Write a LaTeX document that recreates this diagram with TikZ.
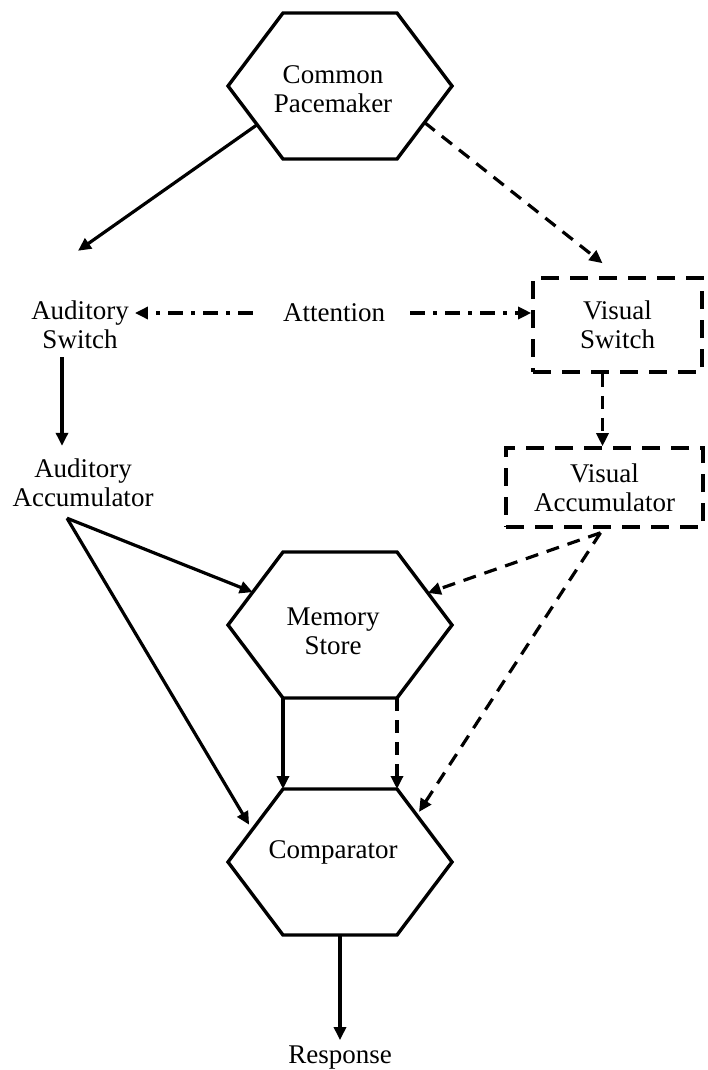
\documentclass[tikz,border=0pt]{standalone}
\usepackage{fontspec}
\setmainfont{Liberation Serif}
\usetikzlibrary{arrows.meta,calc}
\newcommand{\hexagonat}[3]{%
  \coordinate (#1-w)  at ({#2-112},{#3});
  \coordinate (#1-nw) at ({#2-57},{#3-73});
  \coordinate (#1-ne) at ({#2+57},{#3-73});
  \coordinate (#1-e)  at ({#2+112},{#3});
  \coordinate (#1-se) at ({#2+57},{#3+73});
  \coordinate (#1-sw) at ({#2-57},{#3+73});
  \draw[hexline] (#1-w) -- (#1-nw) -- (#1-ne) -- (#1-e) -- (#1-se) -- (#1-sw) -- cycle;}
\begin{document}
\begin{tikzpicture}[x=1pt,y=-1pt,
  txt/.style={align=center,inner sep=0pt,font=\fontsize{27}{29}\selectfont},
  hexline/.style={line width=3.4pt,line join=miter},
  dbox/.style={draw,line width=3.6pt,dash pattern=on 18pt off 11pt,
    minimum width=169pt,minimum height=94pt,inner sep=0pt,align=center,
    font=\fontsize{27}{29}\selectfont},
  con/.style={line width=3.2pt,-{Triangle[length=13pt,width=12pt]}},
  dcon/.style={con,dash pattern=on 13pt off 9pt},
  ddcon/.style={con,dash pattern=on 15pt off 8pt on 4pt off 8pt}]
\fill[white] (0,0) rectangle (707,1070);
\useasboundingbox (0,0) rectangle (707,1070);

\hexagonat{pm}{340}{86}
\hexagonat{mem}{340}{625}
\hexagonat{cmp}{340}{862}

\node[txt] (pmt) at (333,89) {Common\\Pacemaker};
\node[txt] (memt) at (333,631) {Memory\\Store};
\node[txt] (cmpt) at (333,852) {Comparator};
\node[txt] (resp) at (340,1058) {Response};
\node[txt] (audsw) at (80,325) {Auditory\\Switch};
\node[txt] (attn) at (334,313) {Attention};
\node[txt] (audacc) at (83,483) {Auditory\\Accumulator};
\node[dbox] (vissw) at (617.5,325) {Visual\\Switch};
\node[dbox,minimum width=197pt,minimum height=79pt] (visacc) at (604.5,487.5) {Visual\\Accumulator};

\coordinate (pmA) at ($(pm-w)!0.53!(pm-sw)$);
\coordinate (pmB) at ($(pm-e)!0.5!(pm-se)$);
\coordinate (memL) at ($(mem-w)!0.45!(mem-nw)$);
\coordinate (memR) at ($(mem-e)!0.44!(mem-ne)$);
\coordinate (cmpL) at ($(cmp-w)!0.44!(cmp-nw)$);
\coordinate (cmpR) at ($(cmp-e)!0.64!(cmp-ne)$);
\coordinate (cmpB) at ($(cmp-sw)!0.5!(cmp-se)$);
\coordinate (aaOut) at ($(audacc.south)+(-16,11)$);
\coordinate (vaOut) at ($(visacc.south)+(-4,4)$);
\coordinate (audswIn) at ($(audsw.north)+(-2,-50)$);
\coordinate (visswIn) at ($(vissw.north)+(-15,-13)$);
\coordinate (vsOut) at ($(vissw.south)+(-15,0)$);

\draw[con] (pmA) -- (audswIn);
\draw[dcon] (pmB) -- (visswIn);
\draw[ddcon] ($(attn.west)+(-30,0)$) -- ($(audsw.east |- attn)+(6,0)$);
\draw[ddcon] ($(attn.east)+(25,0)$) -- (vissw.west |- attn);
\draw[con] ($(audsw.south)+(-18,8)$) -- ($(audacc.north)+(-21,-13)$);
\draw[dcon] (vsOut) -- (vsOut |- visacc.north);
\draw[con] (aaOut) -- (memL);
\draw[con,shorten >=6pt] (aaOut) -- (cmpL);
\draw[dcon] (vaOut) -- (memR);
\draw[dcon,shorten >=4pt] (vaOut) -- (cmpR);
\draw[con] (mem-sw) -- (cmp-nw);
\draw[dcon] (mem-se) -- (cmp-ne);
\draw[con,shorten >=6pt] (cmpB) -- (resp.north);
\end{tikzpicture}
\end{document}
